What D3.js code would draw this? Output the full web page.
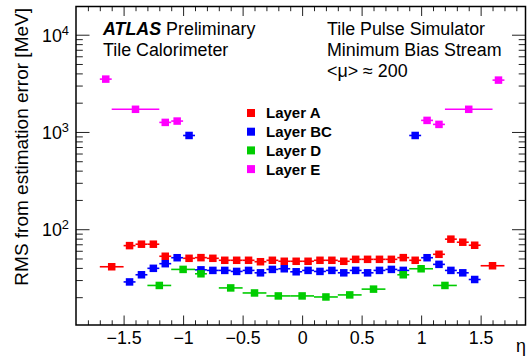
<!DOCTYPE html>
<html>
<head>
<meta charset="utf-8">
<script src="https://cdn.jsdelivr.net/npm/d3@7"></script>
<style>
  body { margin: 0; background: #fff; }
  svg { font-family: "Liberation Sans", Arial, Helvetica, sans-serif; }
</style>
</head>
<body>
<div id="chart"></div>
<script>
// eta bin centres, bin widths and RMS values [MeV] for each layer
var etaA = [-1.6, -1.45, -1.35, -1.25, -1.15, -0.95, -0.85, -0.75, -0.65, -0.55, -0.45, -0.35, -0.25, -0.15, -0.05,
            0.05, 0.15, 0.25, 0.35, 0.45, 0.55, 0.65, 0.75, 0.85, 0.95, 1.15, 1.25, 1.35, 1.45, 1.6]
var widthA = [0.2, 0.1, 0.1, 0.1, 0.1, 0.1, 0.1, 0.1, 0.1, 0.1, 0.1, 0.1, 0.1, 0.1, 0.1,
              0.1, 0.1, 0.1, 0.1, 0.1, 0.1, 0.1, 0.1, 0.1, 0.1, 0.1, 0.1, 0.1, 0.1, 0.2]
var rmsA = [41.1, 67.8, 70.1, 70.1, 52.7, 50.2, 51.0, 50.2, 47.9, 47.9, 47.9, 46.3, 47.9, 46.8, 46.8,
            46.8, 47.9, 47.9, 46.8, 49.0, 49.0, 49.0, 49.0, 51.0, 47.9, 55.2, 79.0, 73.5, 68.4, 42.1]

var etaBC = [-1.45, -1.35, -1.25, -1.15, -1.05, -0.95, -0.85, -0.75, -0.65, -0.55, -0.45, -0.35, -0.25, -0.15, -0.05,
             0.05, 0.15, 0.25, 0.35, 0.45, 0.55, 0.65, 0.75, 0.85, 0.95, 1.05, 1.15, 1.25, 1.35, 1.45]
var widthBC = etaBC.map(function() { return 0.1 })
var rmsBC = [28.7, 34.0, 39.6, 44.2, 50.9, 920, 38.2, 37.7, 37.7, 36.8, 37.7, 35.6, 38.6, 39.2, 36.5,
             37.7, 36.8, 37.7, 35.6, 37.7, 35.6, 37.7, 38.6, 37.7, 920, 50.9, 43.5, 37.7, 35.6, 30.4]

var etaD = [-1.2, -1.0, -0.85, -0.6, -0.4, -0.2, 0, 0.2, 0.4, 0.6, 0.85, 1.0, 1.2]
var widthD = [0.2, 0.2, 0.1, 0.2, 0.2, 0.2, 0.2, 0.2, 0.2, 0.2, 0.1, 0.2, 0.2]
var rmsD = [26.4, 38.6, 34.8, 24.9, 22.1, 20.6, 20.6, 20.1, 21.1, 24.2, 34.0, 39.2, 26.4]

var etaE = [-1.65, -1.4, -1.15, -1.05, 1.05, 1.15, 1.4, 1.65]
var widthE = [0.1, 0.4, 0.1, 0.1, 0.1, 0.1, 0.4, 0.1]
var rmsE = [3494, 1710, 1254, 1294, 1315, 1196, 1710, 3413]

var layerNames = ["Layer A", "Layer BC", "Layer D", "Layer E"]
var layerColors = ["#ff0000", "#0000ff", "#00cc00", "#ff00ff"]

var xMajor = [-1.5, -1, -0.5, 0, 0.5, 1, 1.5]
var yLabelled = [100, 1000, 10000]

var W = 528, H = 357,
    LEFT = 76, RIGHT = 525.5, TOP = 6.5, BOTTOM = 325,
    MARKER = 7.5,
    FONT = 17.85

var layers = [
    { eta: etaA, width: widthA, rms: rmsA },
    { eta: etaBC, width: widthBC, rms: rmsBC },
    { eta: etaD, width: widthD, rms: rmsD },
    { eta: etaE, width: widthE, rms: rmsE }
].map(function(l, i) {
    return l.eta.map(function(e, j) {
        return { eta: e, w: l.width[j], v: l.rms[j], color: layerColors[i] }
    })
})

var x = d3.scaleLinear().domain([-1.9, 1.877]).range([LEFT, RIGHT]),
    y = d3.scaleLog().domain([10.35, 19500]).range([BOTTOM, TOP])

var svg = d3.select("#chart").append("svg")
    .attr("width", W)
    .attr("height", H)

// minor / major tick values
var xMinor = d3.range(-19, 19).map(function(i) { return i / 10 })
    .filter(function(d) { return xMajor.indexOf(d) < 0 && d > -1.9 })
var yMinor = []
;[10, 100, 1000, 10000].forEach(function(dec) {
    for (var k = 2; k <= 9; k++) {
        if (dec * k < 19500 && dec * k > 10.35) yMinor.push(dec * k)
    }
})

function minusFmt(d) {
    return (d < 0 ? "\u2212" : "") + Math.abs(d)
}

function tickStyle(g) {
    g.select(".domain").remove()
    g.selectAll(".tick line").attr("stroke", "#222").attr("stroke-width", 1)
}

// bottom axis
svg.append("g")
    .attr("transform", "translate(0," + BOTTOM + ")")
    .call(d3.axisBottom(x).tickValues(xMajor).tickSize(-9.5).tickPadding(6).tickFormat(minusFmt))
    .call(tickStyle)
    .call(function(g) {
        g.selectAll("text").attr("font-size", FONT).attr("fill", "#000")
            .attr("font-family", "Liberation Sans, Arial, sans-serif")
    })
svg.append("g")
    .attr("transform", "translate(0," + BOTTOM + ")")
    .call(d3.axisBottom(x).tickValues(xMinor).tickSize(-4.7).tickFormat(""))
    .call(tickStyle)

// top axis
svg.append("g")
    .attr("transform", "translate(0," + TOP + ")")
    .call(d3.axisTop(x).tickValues(xMajor).tickSize(-9.5).tickFormat(""))
    .call(tickStyle)
svg.append("g")
    .attr("transform", "translate(0," + TOP + ")")
    .call(d3.axisTop(x).tickValues(xMinor).tickSize(-4.7).tickFormat(""))
    .call(tickStyle)

// left axis
var yAxisG = svg.append("g")
    .attr("transform", "translate(" + LEFT + ",0)")
    .call(d3.axisLeft(y).tickValues(yLabelled).tickSize(-13.5).tickPadding(7).tickFormat(""))
    .call(tickStyle)
svg.append("g")
    .attr("transform", "translate(" + LEFT + ",0)")
    .call(d3.axisLeft(y).tickValues(yMinor).tickSize(-6.8).tickFormat(""))
    .call(tickStyle)

// right axis
svg.append("g")
    .attr("transform", "translate(" + RIGHT + ",0)")
    .call(d3.axisRight(y).tickValues(yLabelled).tickSize(-13.5).tickFormat(""))
    .call(tickStyle)
svg.append("g")
    .attr("transform", "translate(" + RIGHT + ",0)")
    .call(d3.axisRight(y).tickValues(yMinor).tickSize(-6.8).tickFormat(""))
    .call(tickStyle)

// y labels as 10^n
yAxisG.selectAll(".tick").each(function(d) {
    var t = d3.select(this).append("text")
        .attr("x", -7)
        .attr("dy", "0.36em")
        .attr("text-anchor", "end")
        .attr("font-size", FONT)
        .attr("fill", "#000")
    t.append("tspan").text("10")
    t.append("tspan").attr("dy", "-0.55em").attr("font-size", FONT * 0.72)
        .text(Math.round(Math.log10(d)))
})

// frame
svg.append("rect")
    .attr("x", LEFT).attr("y", TOP)
    .attr("width", RIGHT - LEFT).attr("height", BOTTOM - TOP)
    .attr("fill", "none").attr("stroke", "#000").attr("stroke-width", 1.5)

// data: horizontal bin-width bars and square markers
var plot = svg.append("g")
layers.forEach(function(pts) {
    var g = plot.append("g")
    g.selectAll("line.err").data(pts).join("line")
        .attr("class", "err")
        .attr("x1", function(d) { return x(d.eta - d.w / 2) })
        .attr("x2", function(d) { return x(d.eta + d.w / 2) })
        .attr("y1", function(d) { return y(d.v) })
        .attr("y2", function(d) { return y(d.v) })
        .attr("stroke", function(d) { return d.color })
        .attr("stroke-width", 1.6)
    g.selectAll("rect.pt").data(pts).join("rect")
        .attr("class", "pt")
        .attr("x", function(d) { return x(d.eta) - MARKER / 2 })
        .attr("y", function(d) { return y(d.v) - MARKER / 2 })
        .attr("width", MARKER)
        .attr("height", MARKER)
        .attr("fill", function(d) { return d.color })
})

// axis titles
svg.append("text")
    .attr("transform", "translate(28,8) rotate(-90)")
    .attr("text-anchor", "end")
    .attr("font-size", 19)
    .text("RMS from estimation error [MeV]")

svg.append("text")
    .attr("x", 526).attr("y", 352)
    .attr("text-anchor", "end")
    .attr("font-size", FONT)
    .text("\u03b7")

// labels
var atlas = svg.append("text").attr("x", 103).attr("y", 35).attr("font-size", FONT)
atlas.append("tspan").attr("font-weight", "bold").attr("font-style", "italic").text("ATLAS")
atlas.append("tspan").text(" Preliminary")
svg.append("text").attr("x", 103).attr("y", 55.5).attr("font-size", FONT).text("Tile Calorimeter")

var rightLines = ["Tile Pulse Simulator", "Minimum Bias Stream", "<\u03bc> \u2248 200"]
svg.selectAll("text.info").data(rightLines).join("text")
    .attr("class", "info")
    .attr("x", 327)
    .attr("y", function(d, i) { return 35 + i * 21 })
    .attr("font-size", FONT)
    .text(function(d) { return d })

// legend
var leg = svg.append("g").attr("transform", "translate(251,113)")
var row = leg.selectAll("g").data(layerNames).join("g")
    .attr("transform", function(d, i) { return "translate(0," + i * 18.7 + ")" })
row.append("rect")
    .attr("x", -4).attr("y", -4).attr("width", 8).attr("height", 8)
    .attr("fill", function(d, i) { return layerColors[i] })
row.append("text")
    .attr("x", 15).attr("dy", "0.36em")
    .attr("font-size", 15).attr("font-weight", "bold")
    .text(function(d) { return d })
</script>
</body>
</html>
